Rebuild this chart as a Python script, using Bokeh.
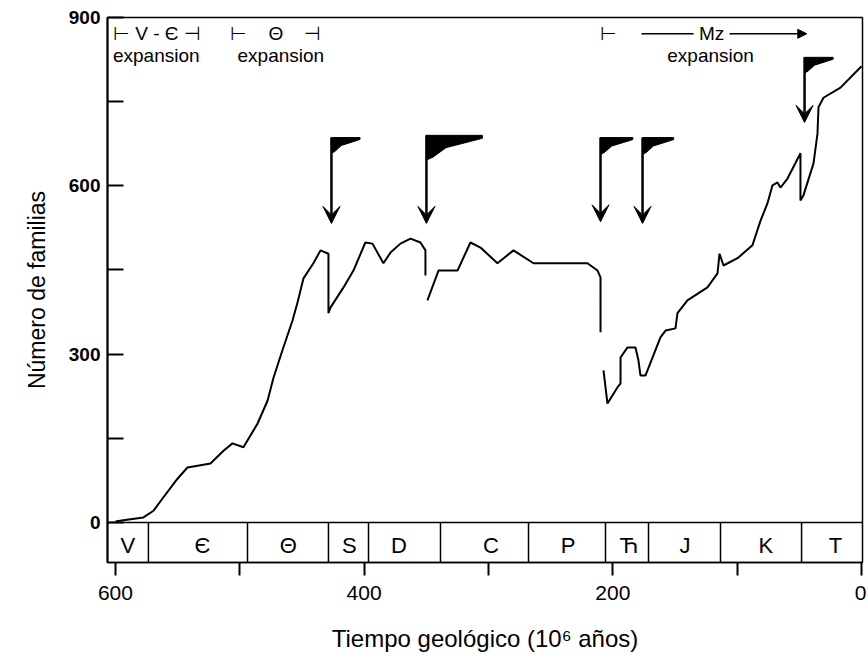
import numpy as np
from bokeh.plotting import figure
from bokeh.models import Range1d, FixedTicker, Label, Arrow, VeeHead, NormalHead
from bokeh.core.properties import value
from bokeh.embed import file_html
from bokeh.resources import INLINE

FONT = "Liberation Sans"
NB = "\u00a0"

# ---- diversity curve (age in Myr, number of marine families), three segments
ages1 = [600.0, 593.6, 577.5, 569.4, 561.4, 550.1, 542.1, 531.6, 523.6, 513.1, 505.9, 497.1, 485.8,
         477.7, 472.9, 465.7, 457.6, 453.6, 448.8, 440.8, 435.1, 428.7, 428.7, 427.1, 416.6, 408.6,
         399.0, 393.3, 384.5, 378.8, 370.8, 362.7, 354.7, 350.7, 350.7]
fams1 = [2, 4, 9, 21, 45, 78, 98, 102, 105, 128, 141, 134, 176, 217, 258, 307, 360, 392, 435, 462,
         485, 479, 373, 383, 419, 449, 499, 497, 462, 481, 497, 506, 499, 485, 440]
ages2 = [349.1, 340.2, 324.9, 314.5, 306.4, 292.8, 279.9, 263.8, 258.2, 220.4, 212.3, 209.9, 209.9]
fams2 = [396, 449, 449, 499, 490, 462, 485, 462, 462, 462, 449, 437, 339]
ages3 = [207.5, 204.3, 196.2, 193.8, 193.8, 188.2, 181.8, 179.4, 177.8, 173.7, 161.7, 157.6, 149.6,
         148.0, 140.0, 123.9, 115.8, 114.2, 111.0, 99.7, 87.7, 81.2, 75.6, 71.6, 67.6, 65.2, 59.5,
         49.1, 49.1, 46.7, 38.6, 35.4, 34.6, 30.6, 16.9, 0.0]
fams3 = [271, 212, 241, 248, 294, 312, 312, 289, 262, 262, 330, 342, 346, 373, 396, 419, 444, 479,
         458, 471, 494, 538, 569, 601, 606, 597, 613, 658, 574, 583, 640, 693, 740, 757, 775, 813]

# ---- geological periods
period_names = ["V", "Є", "Θ", "S", "D", "C", "P", "Ћ", "J", "K", "T"]
period_label_age = [590, 530, 461, 412, 372, 298, 236, 187, 142, 77, 21]
period_bounds = [573.5, 493.8, 428.7, 396.5, 338.6, 267.8, 205.9, 171.3, 113.4, 48.2]

# ---- mass extinction markers (flags with arrows)
extinction_age = [426.3, 349.9, 209.9, 176.1, 45.8]
arrow_top = [686, 690, 686, 686, 829]
arrow_tip = [533, 533, 536, 533, 713]
flag_width = [23, 45, 26, 25, 23]
flag_height = [28, 44, 30, 30, 28]

# ---- axes
x_ticks = [600, 500, 400, 300, 200, 100, 0]
x_tick_labels = {600: "600", 500: "", 400: "400", 300: "", 200: "200", 100: "", 0: "0"}
y_ticks = [0, 150, 300, 450, 600, 750, 900]
y_tick_labels = {0: "0", 150: "", 300: "300", 450: "", 600: "600", 750: "", 900: "900"}

X_LEFT, X_RIGHT = 606.4, -0.8
Y_BOTTOM, Y_TOP = -71.3, 900

p = figure(width=866, height=656, x_range=Range1d(X_LEFT, X_RIGHT), y_range=Range1d(Y_BOTTOM, Y_TOP),
           output_backend="svg", toolbar_location=None, title=None,
           min_border_left=107, min_border_right=4, min_border_top=17, min_border_bottom=94)
p.xgrid.visible = False
p.ygrid.visible = False
p.background_fill_color = "white"
p.border_fill_color = "white"
p.outline_line_color = "black"
p.outline_line_width = 1.5

# x axis
p.xaxis.ticker = FixedTicker(ticks=x_ticks)
p.xaxis.major_label_overrides = x_tick_labels
p.xaxis.major_tick_in = 0
p.xaxis.major_tick_out = 13
p.xaxis.major_tick_line_width = 2
p.xaxis.minor_tick_line_color = None
p.xaxis.axis_line_width = 1.5
p.xaxis.major_label_text_font = FONT
p.xaxis.major_label_text_font_size = "21px"
p.xaxis.major_label_text_color = "black"
p.xaxis.major_label_standoff = 10
p.xaxis.axis_label = "Tiempo geológico (10⁶ años)"
p.xaxis.axis_label_text_font = FONT
p.xaxis.axis_label_text_font_size = "24px"
p.xaxis.axis_label_text_font_style = "normal"
p.xaxis.axis_label_text_color = "black"
p.xaxis.axis_label_standoff = 22

# y axis
p.yaxis.ticker = FixedTicker(ticks=y_ticks)
p.yaxis.major_label_overrides = y_tick_labels
p.yaxis.major_tick_in = 16
p.yaxis.major_tick_out = 0
p.yaxis.major_tick_line_width = 2
p.yaxis.minor_tick_line_color = None
p.yaxis.axis_line_width = 2
p.yaxis.major_label_text_font = FONT
p.yaxis.major_label_text_font_size = "19px"
p.yaxis.major_label_text_font_style = "bold"
p.yaxis.major_label_text_color = "black"
p.yaxis.major_label_standoff = 7
p.yaxis.axis_label = "Número de familias"
p.yaxis.axis_label_text_font = FONT
p.yaxis.axis_label_text_font_size = "23px"
p.yaxis.axis_label_text_font_style = "normal"
p.yaxis.axis_label_text_color = "black"
p.yaxis.axis_label_standoff = 16

# period band
p.line(x=[X_LEFT, X_RIGHT], y=[0, 0], line_color="black", line_width=1.5)
p.segment(x0=period_bounds, y0=[0] * len(period_bounds), x1=period_bounds,
          y1=[Y_BOTTOM] * len(period_bounds), line_color="black", line_width=1.5)
p.text(x=period_label_age, y=[-41] * len(period_names), text=period_names,
       text_align="center", text_baseline="middle", text_font=value(FONT),
       text_font_size="22px", text_color="black")

# curve
curve_x = ages1 + [np.nan] + ages2 + [np.nan] + ages3
curve_y = fams1 + [np.nan] + fams2 + [np.nan] + fams3
p.line(x=curve_x, y=curve_y, line_color="black", line_width=2)

# extinction flags and arrows
flag_xs, flag_ys = [], []
for a, t, tip, w, h in zip(extinction_age, arrow_top, arrow_tip, flag_width, flag_height):
    flag_xs.append([a, a - w, a - w, a - 0.35 * w, a - 0.12 * w, a])
    flag_ys.append([t, t, t - 0.12 * h, t - 0.5 * h, t - 0.88 * h, t - h])
    p.add_layout(Arrow(end=VeeHead(size=17, fill_color="black", line_color="black"),
                       x_start=a, y_start=t, x_end=a, y_end=tip,
                       line_width=2.5, line_color="black"))
p.patches(xs=flag_xs, ys=flag_ys, fill_color="black", line_color="black")

# top annotations
ann = dict(text_font=FONT, text_font_size="19px", text_color="black", text_baseline="middle")
p.add_layout(Label(x=602, y=871, text="⊢ V - Є ⊣", text_align="left", **ann))
p.add_layout(Label(x=602, y=832, text="expansion", text_align="left", **ann))
p.add_layout(Label(x=471, y=871, text="⊢" + NB * 4 + "Θ" + NB * 4 + "⊣", text_align="center", **ann))
p.add_layout(Label(x=467, y=832, text="expansion", text_align="center", **ann))
p.add_layout(Label(x=203.5, y=871, text="⊢", text_align="center", **ann))
p.add_layout(Arrow(end=NormalHead(size=9, fill_color="black", line_color="black"),
                   x_start=177, y_start=871, x_end=44, y_end=871, line_width=1.5, line_color="black"))
p.add_layout(Label(x=120.6, y=871, text=NB + "Mz" + NB, text_align="center",
                   background_fill_color="white", **ann))
p.add_layout(Label(x=121.4, y=832, text="expansion", text_align="center", **ann))

open("out.html", "w").write(file_html(p, INLINE))
